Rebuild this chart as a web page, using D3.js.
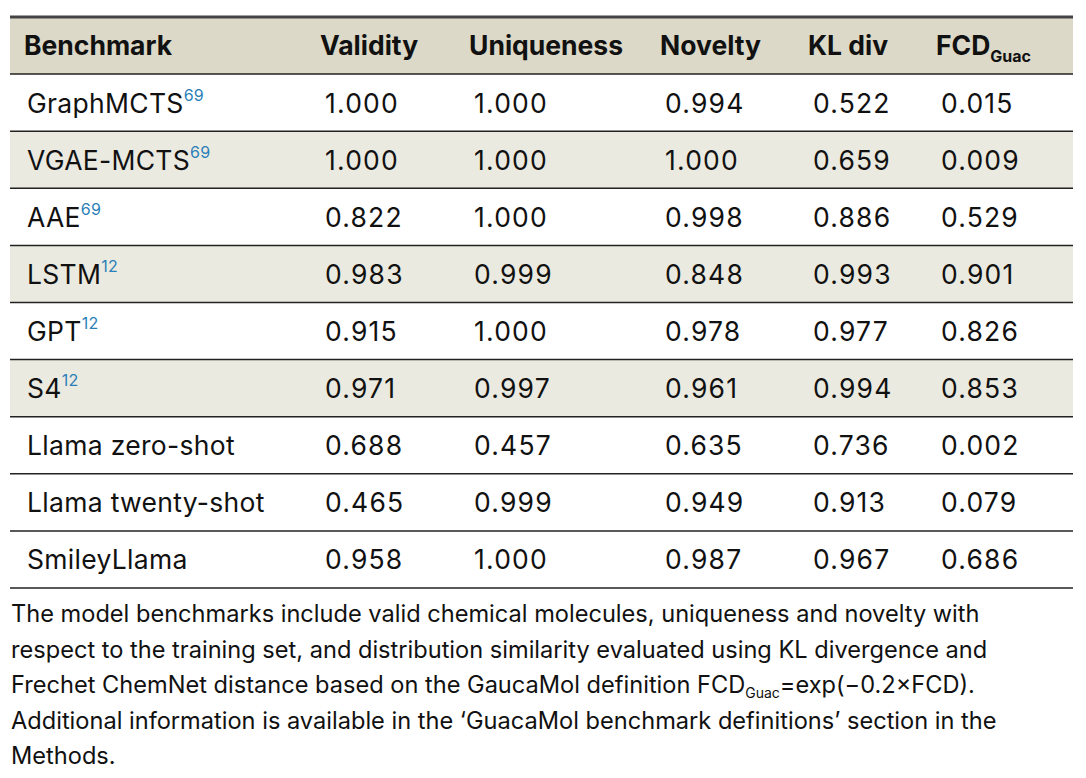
<!DOCTYPE html><html><head><meta charset="utf-8"><script src="https://cdn.jsdelivr.net/npm/d3@7"></script>
<style>body{margin:0;background:#fff}text{font-family:Inter,"Noto Sans",sans-serif}</style></head><body><svg id="c" width="1086" height="778"></svg>
<script>
const columns=["Benchmark","Validity","Uniqueness","Novelty","KL div","FCD"];
const models=["GraphMCTS","VGAE-MCTS","AAE","LSTM","GPT","S4","Llama zero-shot","Llama twenty-shot","SmileyLlama"];
const refs=["69","69","69","12","12","12","","",""];
const validity=["1.000","1.000","0.822","0.983","0.915","0.971","0.688","0.465","0.958"];
const uniqueness=["1.000","1.000","1.000","0.999","1.000","0.997","0.457","0.999","1.000"];
const novelty=["0.994","1.000","0.998","0.848","0.978","0.961","0.635","0.949","0.987"];
const kldiv=["0.522","0.659","0.886","0.993","0.977","0.994","0.736","0.913","0.967"];
const fcd=["0.015","0.009","0.529","0.901","0.826","0.853","0.002","0.079","0.686"];
const caption=["The model benchmarks include valid chemical molecules, uniqueness and novelty with","respect to the training set, and distribution similarity evaluated using KL divergence and","Frechet ChemNet distance based on the GaucaMol definition FCD|=exp(\u22120.2\u00d7FCD).","Additional information is available in the \u2018GuacaMol benchmark definitions\u2019 section in the","Methods."];
const svg=d3.select("#c");
const L=10,R=1073;
const colX=d3.scaleOrdinal().domain(columns).range([24,320,469,660,808,936]);
const y=d3.scaleBand().domain(["h",...models]).range([17,588]).paddingInner(0);
const rowFill=m=>m==="h"?"#dcd9c8":(["VGAE-MCTS","LSTM","S4"].includes(m)?"#ebeae0":"#fff");
svg.selectAll("rect.r").data(["h",...models]).join("rect").attr("x",L).attr("width",R-L).attr("y",d=>y(d)).attr("height",y.bandwidth()).attr("fill",rowFill);
svg.selectAll("line.s").data(["h",...models]).join("line").attr("x1",L).attr("x2",R).attr("y1",d=>y(d)+y.bandwidth()).attr("y2",d=>y(d)+y.bandwidth()).attr("stroke","#222").attr("stroke-width",1.5);
svg.append("line").attr("x1",L).attr("x2",R).attr("y1",17).attr("y2",17).attr("stroke","#444").attr("stroke-width",3);
const hy=y("h")+y.bandwidth()/2+9;
columns.forEach(c=>{const t=svg.append("text").attr("x",colX(c)).attr("y",hy).attr("font-size",26.5).attr("font-weight",700).attr("fill","#111").text(c);
 if(c==="FCD") t.append("tspan").attr("font-size",16).attr("dy",7).text("Guac");});
const vals=[validity,uniqueness,novelty,kldiv,fcd];
models.forEach((m,i)=>{const cy=y(m)+y.bandwidth()/2+10;
 const t=svg.append("text").attr("x",colX("Benchmark")+3).attr("y",cy).attr("font-size",26.5).attr("letter-spacing",0.3).attr("fill","#111").text(m);
 if(refs[i]) t.append("tspan").attr("font-size",16).attr("dy",-12).attr("fill","#2a7fb8").text(refs[i]);
 vals.forEach((v,j)=>svg.append("text").attr("x",colX(columns[j+1])+5).attr("y",cy).attr("font-size",26.5).attr("letter-spacing",1.2).attr("fill","#111").text(v[i]));
});
caption.forEach((ln,i)=>{const t=svg.append("text").attr("x",11).attr("y",622+i*35.5).attr("font-size",23.6).attr("fill","#111");
 if(ln.includes("|")){const [a,b]=ln.split("|");t.append("tspan").text(a);t.append("tspan").attr("font-size",14).attr("dy",5).text("Guac");t.append("tspan").attr("dy",-5).text(b);}else t.text(ln);});
</script></body></html>
